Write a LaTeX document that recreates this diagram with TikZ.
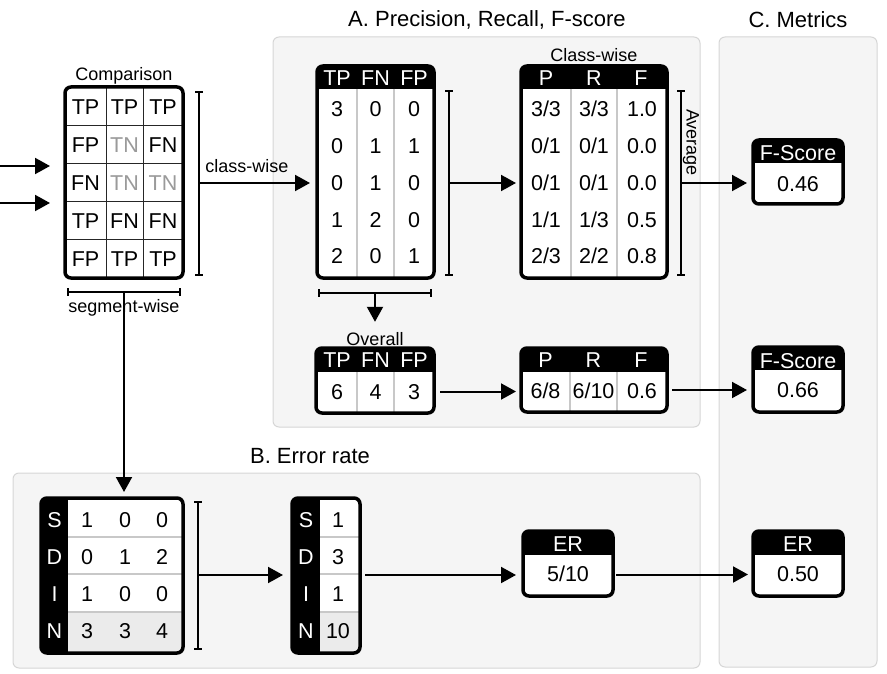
\documentclass[tikz,border=0pt]{standalone}
\usepackage{fontspec}
\setmainfont{Liberation Sans}
\usetikzlibrary{arrows.meta,calc,fit}
\definecolor{panelgray}{HTML}{F5F5F5}
\definecolor{panelline}{HTML}{D6D6D6}
\definecolor{divgray}{HTML}{C8C8C8}
\definecolor{tngray}{HTML}{9A9A9A}
\definecolor{ngray}{HTML}{EBEBEB}
\newcommand\tnc{\textcolor{tngray}{TN}}
\newcommand\tbl[5]{\node[fit={(#2,#3) (#4,#5)},inner sep=0pt,outer sep=0pt] (#1) {};
  \fill[white,rounded corners=6pt] (#1.north west) rectangle (#1.south east);}
\newcommand\thead[3]{\begin{scope}\clip[rounded corners=6pt] (#1.north west) rectangle (#1.south east);
  \fill[black] (#1.north west) rectangle (#2,#3);\end{scope}}
\newcommand\tframe[1]{\draw[line width=3.5pt,rounded corners=6pt] (#1.north west) rectangle (#1.south east);}
\begin{document}
\begin{tikzpicture}[x=1pt,y=-1pt,
  conn/.style={line width=2pt,-{Triangle[length=15pt,width=16pt]}},
  brk/.style={line width=1.5pt},
  div/.style={line width=1.5pt,divgray},
  panel/.style={fill=panelgray,draw=panelline,line width=1pt,rounded corners=6pt,inner sep=0pt},
  txt/.style={inner sep=0pt,text height=15.4pt,text depth=0pt,font=\fontsize{21.5}{24}\selectfont},
  wtxt/.style={txt,text=white},
  lbl/.style={inner sep=0pt,text height=13pt,text depth=0pt,font=\fontsize{18}{21}\selectfont},
  ttl/.style={inner sep=0pt,text height=15.8pt,text depth=0pt,font=\fontsize{22}{26}\selectfont}]
\useasboundingbox (0,0) rectangle (887,674);

% panels
\node[panel,fit={(273,37) (700,427)}] (pA) {};
\node[panel,fit={(13,473) (700,668)}] (pB) {};
\node[panel,fit={(719,37) (877,667)}] (pC) {};
\node[ttl] (tA) at (487,19) {A. Precision, Recall, F-score};
\node[ttl] (tB) at (310,456) {B. Error rate};
\node[ttl] (tC) at (798,20) {C. Metrics};

% comparison table
\node[lbl] (cmpl) at (124,74.5) {Comparison};
\tbl{cmp}{65}{87}{183}{278}
\draw[line width=1pt,black!85] (106,87) -- (106,278) (143,87) -- (143,278)
  (65,126) -- (183,126) (65,164) -- (183,164) (65,202) -- (183,202) (65,239) -- (183,239);
\tframe{cmp}
\foreach \y/\a/\b/\c [count=\r] in {106.5/TP/TP/TP, 145/FP/\tnc/FN, 183/FN/\tnc/\tnc, 220.5/TP/FN/FN, 258.5/FP/TP/TP} {
  \node[txt] (cmp-\r-1) at (85.5,\y) {\a};
  \node[txt] (cmp-\r-2) at (124.5,\y) {\b};
  \node[txt] (cmp-\r-3) at (163,\y) {\c};
}
\draw[brk] (195,92) -- (203,92) (199,92) -- (199,275) (195,275) -- (203,275);
\coordinate (b1) at (199,183);
\node[lbl] (cwl) at (247,166.5) {class-wise};
\node[lbl] (segl) at (124,305.5) {segment-wise};
\draw[brk] (68,288) -- (68,296) (68,292) -- (180,292) (180,288) -- (180,296);
\coordinate (sm) at (124,292);

% TP FN FP class-wise table
\tbl{tp}{317}{66}{434}{278}
\thead{tp}{434}{89}
\draw[div] (357,89) -- (357,278) (394,89) -- (394,278);
\tframe{tp}
\node[wtxt] (tp-h1) at (337,77.5) {TP};
\node[wtxt] (tp-h2) at (375.5,77.5) {FN};
\node[wtxt] (tp-h3) at (414,77.5) {FP};
\foreach \y/\a/\b/\c [count=\r] in {109/3/0/0, 146/0/1/1, 183/0/1/0, 219.5/1/2/0, 256/2/0/1} {
  \node[txt] (tp-\r-1) at (337,\y) {\a};
  \node[txt] (tp-\r-2) at (375.5,\y) {\b};
  \node[txt] (tp-\r-3) at (414,\y) {\c};
}
\draw[brk] (445,91) -- (453,91) (449,91) -- (449,275) (445,275) -- (453,275);
\coordinate (b2) at (449,183);
\draw[brk] (319,289) -- (319,297) (319,293) -- (431,293) (431,289) -- (431,297);
\coordinate (sm2) at (375,293);

% class-wise P R F table
\node[lbl] (cwt) at (594,55.5) {Class-wise};
\tbl{cw}{521}{66}{667}{278}
\thead{cw}{667}{89}
\draw[div] (571,89) -- (571,278) (617,89) -- (617,278);
\tframe{cw}
\node[wtxt] (cw-h1) at (546,77.5) {P};
\node[wtxt] (cw-h2) at (594,77.5) {R};
\node[wtxt] (cw-h3) at (641,77.5) {F};
\foreach \y/\a/\b/\c [count=\r] in {109/3\slash 3/3\slash 3/1.0, 146/0\slash 1/0\slash 1/0.0, 183/0\slash 1/0\slash 1/0.0, 219.5/1\slash 1/1\slash 3/0.5, 256/2\slash 3/2\slash 2/0.8} {
  \node[txt] (cw-\r-1) at (546,\y) {\a};
  \node[txt] (cw-\r-2) at (594,\y) {\b};
  \node[txt] (cw-\r-3) at (642,\y) {\c};
}
\draw[brk] (677,91) -- (685,91) (681,91) -- (681,275) (677,275) -- (685,275);
\coordinate (b3) at (681,183);
\node[lbl,rotate=-90] (avg) at (693,142.5) {Average};

% overall
\node[lbl] (ovl) at (375,338.5) {Overall};
\tbl{ov}{316}{348}{434}{413}
\thead{ov}{434}{372}
\draw[div] (357,372) -- (357,413) (394,372) -- (394,413);
\tframe{ov}
\node[wtxt] (ov-h1) at (337,359.5) {TP};
\node[wtxt] (ov-h2) at (375.5,359.5) {FN};
\node[wtxt] (ov-h3) at (414,359.5) {FP};
\node[txt] (ov-1) at (337,391.5) {6};
\node[txt] (ov-2) at (375.5,391.5) {4};
\node[txt] (ov-3) at (414,391.5) {3};

\tbl{pr}{521}{348}{667}{412}
\thead{pr}{667}{372}
\draw[div] (570,372) -- (570,412) (617,372) -- (617,412);
\tframe{pr}
\node[wtxt] (pr-h1) at (545.5,359.5) {P};
\node[wtxt] (pr-h2) at (593.5,359.5) {R};
\node[wtxt] (pr-h3) at (641,359.5) {F};
\node[txt] (pr-1) at (545.5,391) {6/8};
\node[txt] (pr-2) at (593.5,391) {6/10};
\node[txt] (pr-3) at (642,391) {0.6};

% metrics
\tbl{fs1}{753}{140}{843}{204}
\thead{fs1}{843}{163}
\tframe{fs1}
\node[wtxt] (fs1-h) at (798,153) {F-Score};
\node[txt] (fs1-v) at (798,183.7) {0.46};

\tbl{fs2}{753}{347}{843}{412}
\thead{fs2}{843}{370}
\tframe{fs2}
\node[wtxt] (fs2-h) at (798,360.5) {F-Score};
\node[txt] (fs2-v) at (798,389.7) {0.66};

\tbl{er2}{753}{531}{843}{596}
\thead{er2}{843}{555}
\tframe{er2}
\node[wtxt] (er2-h) at (798,544) {ER};
\node[txt] (er2-v) at (798,574) {0.50};

% error rate
\tbl{sd1}{41}{498}{183}{653}
\begin{scope}
  \clip[rounded corners=6pt] (sd1.north west) rectangle (sd1.south east);
  \fill[black] (41,498) rectangle (68,653);
  \fill[ngray] (68,612) rectangle (183,653);
\end{scope}
\draw[div] (68,537) -- (183,537) (68,574) -- (183,574) (68,612) -- (183,612);
\tframe{sd1}
\foreach \y/\l/\a/\b/\c [count=\r] in {520/S/1/0/0, 556.5/D/0/1/2, 593.7/I/1/0/0, 631/N/3/3/4} {
  \node[wtxt] (sd1-l\r) at (54.5,\y) {\l};
  \node[txt] (sd1-\r-1) at (87,\y) {\a};
  \node[txt] (sd1-\r-2) at (125,\y) {\b};
  \node[txt] (sd1-\r-3) at (162,\y) {\c};
}
\draw[brk] (194,502) -- (202,502) (198,502) -- (198,649) (194,649) -- (202,649);
\coordinate (b4) at (198,575);

\tbl{sd2}{292}{498}{360}{653}
\begin{scope}
  \clip[rounded corners=6pt] (sd2.north west) rectangle (sd2.south east);
  \fill[black] (292,498) rectangle (320,653);
  \fill[ngray] (320,612) rectangle (360,653);
\end{scope}
\draw[div] (320,537) -- (360,537) (320,574) -- (360,574) (320,612) -- (360,612);
\tframe{sd2}
\foreach \y/\l/\a [count=\r] in {520/S/1, 556.5/D/3, 593.7/I/1, 631/N/10} {
  \node[wtxt] (sd2-l\r) at (306,\y) {\l};
  \node[txt] (sd2-\r) at (338,\y) {\a};
}

\tbl{er1}{523}{531}{613}{596}
\thead{er1}{613}{555}
\tframe{er1}
\node[wtxt] (er1-h) at (568,544) {ER};
\node[txt] (er1-v) at (568,574) {5/10};

% connectors
\coordinate (in1) at (0,166);
\coordinate (in2) at (0,203);
\draw[conn,shorten >=15pt] (in1) -- (cmp.west |- in1);
\draw[conn,shorten >=15pt] (in2) -- (cmp.west |- in2);
\draw[conn,shorten >=7pt] (b1) -- (tp.west |- b1);
\draw[conn,shorten >=5pt] (b2) -- (cw.west |- b2);
\draw[conn,shorten >=6pt] (b3) -- (fs1.west |- b3);
\draw[conn,shorten >=6pt] (sm) -- (sm |- sd1.north);
\draw[conn,shorten >=10pt] (sm2) -- (sm2 |- ovl.north);
\coordinate (a1) at ($(ov.east)+(6,11)$);
\draw[conn,shorten >=5pt] (a1) -- (pr.west |- a1);
\coordinate (a2) at ($(pr.east)+(5,10)$);
\draw[conn,shorten >=6pt] (a2) -- (fs2.west |- a2);
\draw[conn,shorten >=9pt] (b4) -- (sd2.west |- b4);
\coordinate (a3) at ($(sd2.east)+(5,-0.5)$);
\draw[conn,shorten >=7pt] (a3) -- (er1.west |- a3);
\coordinate (a4) at ($(er1.east)+(3,11)$);
\draw[conn,shorten >=5pt] (a4) -- (er2.west |- a4);
\end{tikzpicture}
\end{document}
